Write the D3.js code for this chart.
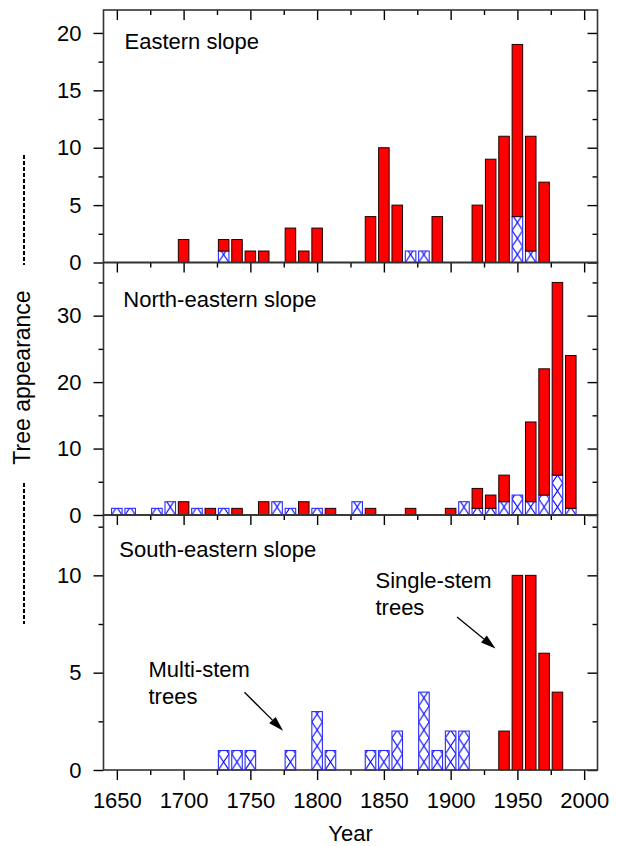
<!DOCTYPE html>
<html><head><meta charset="utf-8">
<script src="https://cdn.jsdelivr.net/npm/d3@7"></script>
<style>
html,body{margin:0;padding:0;background:#fff;}
svg text{font-family:"Liberation Sans",Arial,Helvetica,sans-serif;fill:#000;}
</style></head>
<body>
<svg id="chart" width="617" height="846"></svg>
<script>
// ---- data ----
const panelNames = ["Eastern slope", "North-eastern slope", "South-eastern slope"];

const eastYears  = [1700,1730,1740,1750,1760,1780,1790,1800,1840,1850,1860,1870,1880,1890,1920,1930,1940,1950,1960,1970];
const eastSingle = [2,1,2,1,1,3,1,3,4,10,5,0,0,4,5,9,11,15,10,7];
const eastMulti  = [0,1,0,0,0,0,0,0,0,0,0,1,1,0,0,0,0,4,1,0];

const neYears  = [1650,1660,1680,1690,1700,1710,1720,1730,1740,1760,1770,1780,1790,1800,1810,1830,1840,1870,1900,1910,1920,1930,1940,1950,1960,1970,1980,1990];
const neSingle = [0,0,0,0,2,0,1,0,1,2,0,0,2,0,1,0,1,1,1,0,3,2,4,0,12,19,29,23];
const neMulti  = [1,1,1,2,0,1,0,1,0,0,2,1,0,1,0,2,0,0,0,2,1,1,2,3,2,3,6,1];

const seYears  = [1730,1740,1750,1780,1800,1810,1840,1850,1860,1880,1890,1900,1910,1940,1950,1960,1970,1980];
const seSingle = [0,0,0,0,0,0,0,0,0,0,0,0,0,2,10,10,6,4];
const seMulti  = [1,1,1,1,3,1,1,1,2,4,1,2,2,0,0,0,0,0];

const yMaxes   = [22, 38, 13.1];
const yMajors  = [[0,5,10,15,20],[0,10,20,30],[0,5,10]];
const yMinors  = [[2.5,7.5,12.5,17.5],[5,15,25,35],[2.5,7.5,12.5]];
const xMajors  = [1650,1700,1750,1800,1850,1900,1950,2000];
const xMinors  = [1675,1725,1775,1825,1875,1925,1975];

const annotations = [
  {lines:["Single-stem","trees"], tx:1843.7, ty:9.33, from:[1904.8,7.86], to:[1933.6,6.24]},
  {lines:["Multi-stem","trees"],  tx:1673.7, ty:4.77, from:[1745.6,3.99], to:[1774.5,2.02]}
];

// ---- layout ----
const svg = d3.select("#chart");
const L = 103.5, R = 597.5;
const panelTops = [10, 262.5, 515];
const panelBottoms = [262.5, 515, 770];
const FS = 22;

const x = d3.scaleLinear().domain([1640, 2010]).range([L, R]);
const halfW = 3.95;
const step = x(1660) - x(1650);

const datasets = [
  {years:eastYears, single:eastSingle, multi:eastMulti},
  {years:neYears, single:neSingle, multi:neMulti},
  {years:seYears, single:seSingle, multi:seMulti}
];

const defs = svg.append("defs");

datasets.forEach((ds, i) => {
  const y = d3.scaleLinear().domain([0, yMaxes[i]]).range([panelBottoms[i], panelTops[i]]);
  const g = svg.append("g");

  // hatch pattern aligned to bar grid
  const bw = 2*halfW*(x(1651)-x(1650));
  const pH = 16;
  const pat = defs.append("pattern")
    .attr("id", "hatch"+i)
    .attr("patternUnits", "userSpaceOnUse")
    .attr("x", x(1650 - halfW)).attr("y", y(0))
    .attr("width", step).attr("height", pH);
  pat.append("rect").attr("width", step).attr("height", pH).attr("fill", "#fff");
  pat.append("path")
    .attr("d", `M0,0L${bw},${pH}M${bw},0L0,${pH}`)
    .attr("stroke", "#0000ff").attr("stroke-width", 1.1).attr("fill", "none");

  const rows = ds.years.map((yr, k) => ({year: yr, single: ds.single[k], multi: ds.multi[k]}));

  // multi-stem (bottom, hatched)
  g.selectAll("rect.multi").data(rows.filter(d => d.multi > 0)).join("rect")
    .attr("class", "multi")
    .attr("x", d => x(d.year - halfW))
    .attr("width", d => x(d.year + halfW) - x(d.year - halfW))
    .attr("y", d => y(d.multi))
    .attr("height", d => y(0) - y(d.multi))
    .attr("fill", `url(#hatch${i})`)
    .attr("stroke", "#2a2aff").attr("stroke-width", 1.1);

  // single-stem (stacked on top, red)
  g.selectAll("rect.single").data(rows.filter(d => d.single > 0)).join("rect")
    .attr("class", "single")
    .attr("x", d => x(d.year - halfW))
    .attr("width", d => x(d.year + halfW) - x(d.year - halfW))
    .attr("y", d => y(d.multi + d.single))
    .attr("height", d => y(d.multi) - y(d.multi + d.single))
    .attr("fill", "#ff0000")
    .attr("stroke", "#200000").attr("stroke-width", 1);

  // axes
  const styleAxis = a => { a.select(".domain").remove(); a.selectAll("line").attr("stroke", "#000").attr("stroke-width", 1.4); a.selectAll("text").style("font-size", FS+"px"); };

  svg.append("g").attr("transform", `translate(${L},0)`)
    .call(d3.axisLeft(y).tickValues(yMajors[i]).tickSize(10).tickPadding(12).tickFormat(d3.format("d")))
    .call(styleAxis);
  svg.append("g").attr("transform", `translate(${L},0)`)
    .call(d3.axisLeft(y).tickValues(yMinors[i]).tickSize(5).tickFormat(""))
    .call(styleAxis);
  svg.append("g").attr("transform", `translate(${R},0)`)
    .call(d3.axisRight(y).tickValues(yMajors[i]).tickSize(-10).tickFormat(""))
    .call(styleAxis);
  svg.append("g").attr("transform", `translate(${R},0)`)
    .call(d3.axisRight(y).tickValues(yMinors[i]).tickSize(-5).tickFormat(""))
    .call(styleAxis);
  svg.append("g").attr("transform", `translate(0,${panelTops[i]})`)
    .call(d3.axisTop(x).tickValues(xMajors).tickSize(-10).tickFormat(""))
    .call(styleAxis);
  svg.append("g").attr("transform", `translate(0,${panelTops[i]})`)
    .call(d3.axisTop(x).tickValues(xMinors).tickSize(-5).tickFormat(""))
    .call(styleAxis);

  if (i === 2) {
    svg.append("g").attr("transform", `translate(0,${panelBottoms[i]})`)
      .call(d3.axisBottom(x).tickValues(xMajors).tickSize(10).tickPadding(12).tickFormat(d3.format("d")))
      .call(styleAxis);
    svg.append("g").attr("transform", `translate(0,${panelBottoms[i]})`)
      .call(d3.axisBottom(x).tickValues(xMinors).tickSize(5).tickFormat(""))
      .call(styleAxis);

    annotations.forEach(an => {
      const t = svg.append("text").attr("x", x(an.tx)).attr("y", y(an.ty)).style("font-size", FS+"px");
      an.lines.forEach((ln, j) => t.append("tspan").attr("x", x(an.tx)).attr("dy", j ? 27 : 0).text(ln));
      const x1 = x(an.from[0]), y1 = y(an.from[1]), x2 = x(an.to[0]), y2 = y(an.to[1]);
      const ang = Math.atan2(y2 - y1, x2 - x1);
      const hl = 15, hw = 4.5;
      const bx = x2 - hl*Math.cos(ang), by = y2 - hl*Math.sin(ang);
      svg.append("line").attr("x1", x1).attr("y1", y1).attr("x2", bx).attr("y2", by)
        .attr("stroke", "#000").attr("stroke-width", 1.3);
      svg.append("path")
        .attr("d", `M${x2},${y2}L${bx - hw*Math.sin(ang)},${by + hw*Math.cos(ang)}L${bx + hw*Math.sin(ang)},${by - hw*Math.cos(ang)}Z`)
        .attr("fill", "#000");
    });
  }

  // frame
  svg.append("rect").attr("x", L).attr("y", panelTops[i])
    .attr("width", R - L).attr("height", panelBottoms[i] - panelTops[i])
    .attr("fill", "none").attr("stroke", "#333").attr("stroke-width", 1.6);

  // panel title
  const titleX = [124.5, 123.3, 119.3][i];
  const titleY = [49.3, 306.7, 557.3][i];
  svg.append("text").attr("x", titleX).attr("y", titleY).style("font-size", FS+"px").text(panelNames[i]);
});

// y title with dashed lines
svg.append("text").attr("transform", "translate(30,377.5) rotate(-90)")
  .attr("text-anchor", "middle").style("font-size", "23px").text("Tree appearance");
svg.append("line").attr("x1", 24).attr("x2", 24).attr("y1", 155).attr("y2", 265)
  .attr("stroke", "#000").attr("stroke-width", 2).attr("stroke-dasharray", "4,2");
svg.append("line").attr("x1", 24).attr("x2", 24).attr("y1", 483).attr("y2", 624)
  .attr("stroke", "#000").attr("stroke-width", 2).attr("stroke-dasharray", "4,2");

// x title
svg.append("text").attr("x", (L + R)/2).attr("y", 840.5).attr("text-anchor", "middle")
  .style("font-size", FS+"px").text("Year");
</script>
</body></html>
